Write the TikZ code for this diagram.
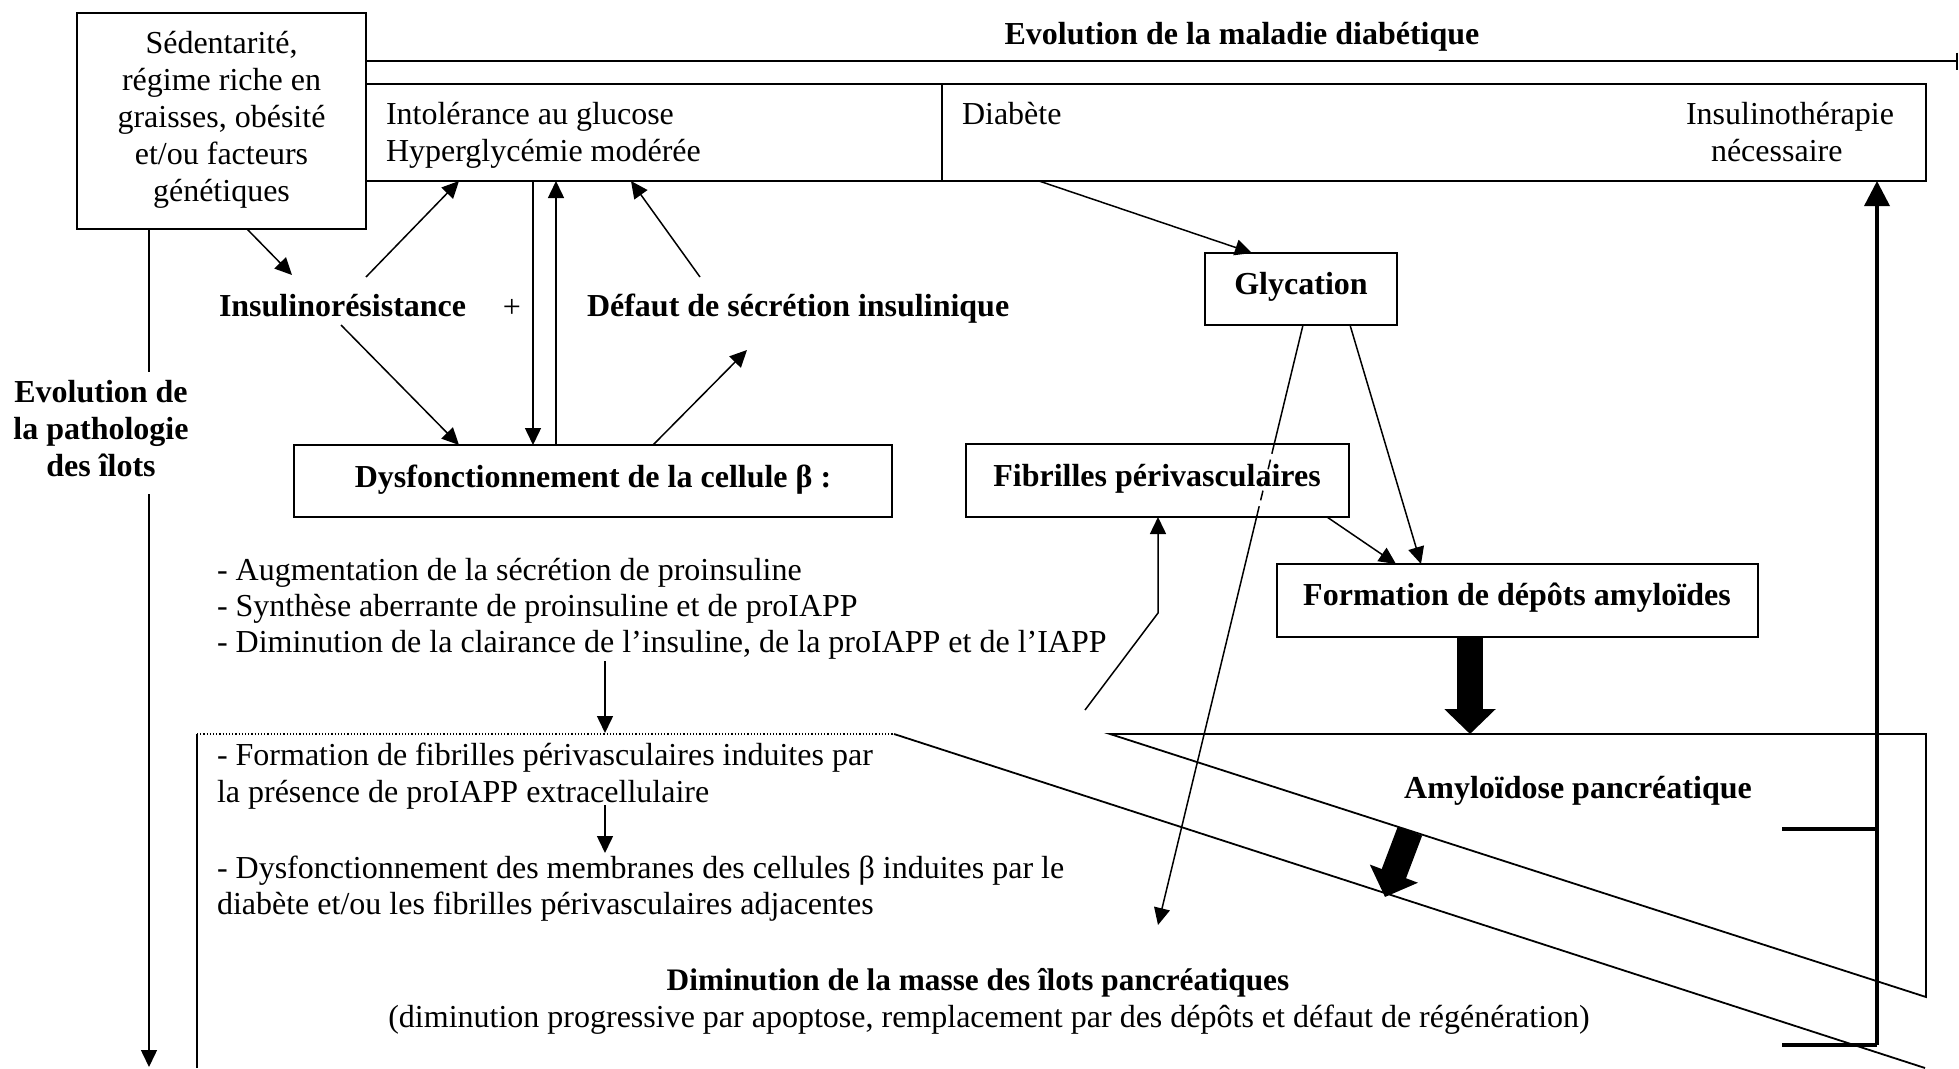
\documentclass[tikz,border=0pt]{standalone}
\usepackage{fontspec}
\setmainfont{Liberation Serif}
\usetikzlibrary{arrows.meta}
\newcommand\fsz{\fontsize{32}{37}\selectfont}
\begin{document}
\begin{tikzpicture}[x=1pt,y=-1pt,
  box/.style={draw, line width=1.8pt, inner sep=0pt, outer sep=0pt, anchor=north west},
  ln/.style={line width=1.5pt},
  arr/.style={ln, -{Triangle[width=16pt,length=17pt]}},
  txt/.style={inner sep=0pt, outer sep=0pt, font=\fsz},
  btxt/.style={inner sep=0pt, outer sep=0pt, font=\fsz\bfseries},
  fat/.style={line width=26pt, -{Triangle[width=50pt,length=25pt]}},
]
\useasboundingbox (0,0) rectangle (1959,1068);

% ---------- boxes ----------
\node[box, minimum width=289pt, minimum height=216pt] (sed) at (77,13) {};
\node[box, minimum width=576pt, minimum height=97pt] (intol) at (366,84) {};
\node[box, minimum width=984pt, minimum height=97pt] (diab) at (942,84) {};
\node[box, minimum width=598pt, minimum height=72pt] (dysf) at (294,445) {};
\node[box, minimum width=192pt, minimum height=72pt] (glyc) at (1205,253) {};
\node[box, minimum width=383pt, minimum height=73pt] (fibr) at (966,444) {};
\node[box, minimum width=481pt, minimum height=73pt] (form) at (1277,564) {};

% ---------- texts ----------
\node[txt, anchor=base] (s1) at (221.5,53) {Sédentarité,};
\node[txt, anchor=base] (s2) at (221.5,90) {régime riche en};
\node[txt, anchor=base] (s3) at (221.5,127) {graisses, obésité};
\node[txt, anchor=base] (s4) at (221.5,164) {et/ou facteurs};
\node[txt, anchor=base] (s5) at (221.5,201) {génétiques};

\node[btxt, anchor=base] (title) at (1242,44) {Evolution de la maladie diabétique};

\node[txt, anchor=base west] (i1) at (386,124) {Intolérance au glucose};
\node[txt, anchor=base west] (i2) at (386,161) {Hyperglycémie modérée};
\node[txt, anchor=base west] (d1) at (962,124) {Diabète};
\node[txt, anchor=base west] (n1) at (1686,124) {Insulinothérapie};
\node[txt, anchor=base west] (n2) at (1711,161) {nécessaire};

\node[btxt, anchor=base west] (insul) at (219,316) {Insulinorésistance};
\node[txt, anchor=base] (plus) at (512,317) {+};
\node[btxt, anchor=base west] (defaut) at (587,316) {Défaut de sécrétion insulinique};

\node[btxt, anchor=base] (dysft) at (593,487) {Dysfonctionnement de la cellule β :};
\node[btxt, anchor=base] (glyct) at (1301,294) {Glycation};
\node[btxt, anchor=base] (fibrt) at (1157,486) {Fibrilles périvasculaires};
\node[btxt, anchor=base] (formt) at (1517,605) {Formation de dépôts amyloïdes};
\node[btxt, anchor=base] (amyl) at (1578,798) {Amyloïdose pancréatique};

\node[btxt, anchor=base] (e1) at (101,402) {Evolution de};
\node[btxt, anchor=base] (e2) at (101,439) {la pathologie};
\node[btxt, anchor=base] (e3) at (101,476) {des îlots};

\node[txt, anchor=base west] (b1) at (217,580) {- Augmentation de la sécrétion de proinsuline};
\node[txt, anchor=base west] (b2) at (217,616) {- Synthèse aberrante de proinsuline et de proIAPP};
\node[txt, anchor=base west] (b3) at (217,652) {- Diminution de la clairance de l’insuline, de la proIAPP et de l’IAPP};

\node[txt, anchor=base west] (c1) at (217,765) {- Formation de fibrilles périvasculaires induites par};
\node[txt, anchor=base west] (c2) at (217,802) {la présence de proIAPP extracellulaire};
\node[txt, anchor=base west] (c3) at (217,878) {- Dysfonctionnement des membranes des cellules β induites par le};
\node[txt, anchor=base west] (c4) at (217,914) {diabète et/ou les fibrilles périvasculaires adjacentes};

\node[inner sep=0pt, outer sep=0pt, font=\fontsize{31.3}{37}\selectfont\bfseries, anchor=base] (dimin) at (978,990) {Diminution de la masse des îlots pancréatiques};
\node[txt, anchor=base] (dimin2) at (989,1027) {(diminution progressive par apoptose, remplacement par des dépôts et défaut de régénération)};

% ---------- coordinates ----------
\coordinate (tl0) at (366,61);
\coordinate (tl1) at (1958,61);
\coordinate (a1) at (292,275);
\coordinate (a2) at (366,277);
\coordinate (a3) at (341,325);
\coordinate (a6) at (700,277);
\coordinate (a7) at (747,350);
\coordinate (g1) at (1274.2,444);
\coordinate (g2) at (1256.6,517);
\coordinate (g3) at (1158,925);
\coordinate (f0) at (1085,710);
\coordinate (f1) at (1158,613);
\coordinate (amtop) at (1470,734);
\coordinate (am1) at (1410,831);
\coordinate (am2) at (1385,897);
\coordinate (r0) at (1877,1045);
\coordinate (r1) at (1877,829);
\coordinate (t0) at (1782,829);
\coordinate (t1) at (1782,1045);
\coordinate (ev0) at (149,372);
\coordinate (ev1) at (149,494);
\coordinate (ev2) at (149,1067);
\coordinate (x0) at (605,661);
\coordinate (x1) at (605,733);
\coordinate (y0) at (605,805);
\coordinate (y1) at (605,853);
\coordinate (dbl) at (197,734);
\coordinate (dbr) at (894,734);
\coordinate (dbb) at (197,1068);
\coordinate (p0) at (1110,734);
\coordinate (p1) at (1926,734);
\coordinate (p2) at (1926,997);
\coordinate (q1) at (1925,1068);

% ---------- connectors ----------
\draw[line width=1.8pt, -{Bar[width=17pt]}] (tl0) -- (tl1);

\draw[arr] ([xshift=170pt]sed.south west) -- (a1);
\draw[arr] (a2) -- ([xshift=93pt]intol.south west);
\draw[arr] (a3) -- ([xshift=165pt]dysf.north west);
\draw[arr] ([xshift=167pt]intol.south west) -- ([xshift=239pt]dysf.north west);
\draw[arr] ([xshift=262pt]dysf.north west) -- ([xshift=190pt]intol.south west);
\draw[arr] (a6) -- ([xshift=265pt]intol.south west);
\draw[arr] ([xshift=359pt]dysf.north west) -- (a7);

\draw[arr] ([xshift=97pt]diab.south west) -- ([xshift=47pt]glyc.north west);
\draw[ln] ([xshift=98pt]glyc.south west) -- (g1);
\draw[ln, dash pattern=on 10pt off 6pt] (g1) -- (g2);
\draw[arr] (g2) -- (g3);
\draw[arr] ([xshift=145pt]glyc.south west) -- ([xshift=144pt]form.north west);
\draw[arr] ([xshift=361pt]fibr.south west) -- ([xshift=119pt]form.north west);
\draw[arr] (f0) -- (f1) -- ([xshift=192pt]fibr.south west);

\draw[fat] ([xshift=193pt]form.south west) -- (amtop);

% amyloidose region
\draw[line width=1.8pt] (p0) -- (p1) -- (p2) -- cycle;
\draw[line width=1.8pt] (dbr) -- (q1);
\draw[fat] (am1) -- (am2);

% right return arrow
\draw[line width=3.5pt, -{Triangle[width=25pt,length=25pt]}] (r0) -- ([xshift=935pt]diab.south west);
\draw[line width=4pt] (t0) -- (r1);
\draw[line width=4pt] (t1) -- (r0);

% left timeline
\draw[ln] ([xshift=72pt]sed.south west) -- (ev0);
\draw[arr] (ev1) -- (ev2);

% text arrows and dotted box
\draw[arr] (x0) -- (x1);
\draw[arr] (y0) -- (y1);
\draw[line width=1.2pt, dotted] (dbl) -- (dbr);
\draw[ln] (dbl) -- (dbb);
\end{tikzpicture}
\end{document}
